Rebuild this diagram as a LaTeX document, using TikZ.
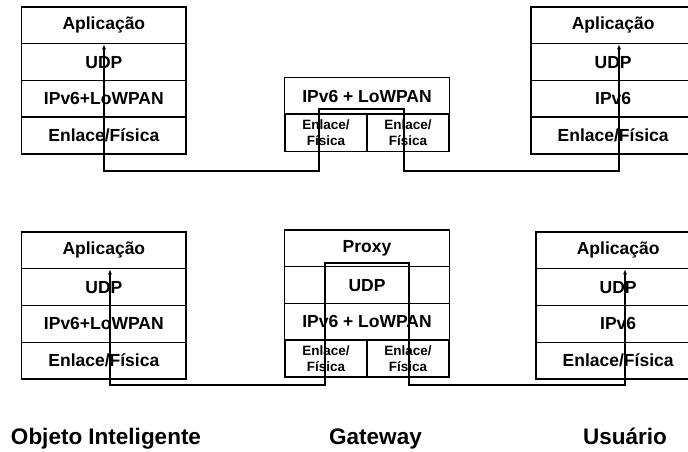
\documentclass[tikz,border=0pt]{standalone}
\usepackage{fontspec}
\setmainfont{Liberation Sans}
\usetikzlibrary{arrows.meta}
\begin{document}
\begin{tikzpicture}[x=1pt,y=-1pt,
  row/.style={draw=black,line width=1.1pt,minimum width=164.3pt,minimum height=36.75pt,inner sep=0pt,
    font=\fontsize{17.5}{21}\selectfont\bfseries},
  half/.style={draw=black,line width=1.1pt,minimum width=82.15pt,minimum height=36.75pt,inner sep=0pt,
    align=center,font=\fontsize{13.5}{15.5}\selectfont\bfseries},
  thick divider/.style={line width=2pt},
  link/.style={line width=1.1pt,{Latex[length=5pt,width=4pt]}-{Latex[length=5pt,width=4pt]}},
  caption/.style={font=\fontsize{22.5}{26}\selectfont\bfseries,anchor=base,inner sep=0pt}]
\clip (0,0) rectangle (688,451);
\useasboundingbox (0,0) rectangle (688,451);
% top-left stack
\node[row] (tlA) at (103.85,25.375) {Aplicação};
\node[row] (tlU) at (103.85,62.125) {UDP};
\node[row] (tlI) at (103.85,98.875) {IPv6+LoWPAN};
\node[row] (tlE) at (103.85,135.625) {Enlace/Física};
\draw[thick divider] (tlE.north west) -- (tlE.north east);
% top-right stack
\node[row] (trA) at (613.15,25.375) {Aplicação};
\node[row] (trU) at (613.15,62.125) {UDP};
\node[row] (trI) at (613.15,98.875) {IPv6};
\node[row] (trE) at (613.15,135.625) {Enlace/Física};
\draw[thick divider] (trE.north west) -- (trE.north east);
% top gateway
\node[row] (gtI) at (367,96) {IPv6 + LoWPAN};
\node[half] (gtL) at (326.075,132.75) {Enlace/\\Física};
\node[half] (gtR) at (407.925,132.75) {Enlace/\\Física};
\draw[thick divider] (gtL.north west) -- (gtR.north east);
% bottom-left stack
\node[row] (blA) at (103.85,250.375) {Aplicação};
\node[row] (blU) at (103.85,287.125) {UDP};
\node[row] (blI) at (103.85,323.875) {IPv6+LoWPAN};
\node[row] (blE) at (103.85,360.625) {Enlace/Física};
% bottom-right stack
\node[row] (brA) at (618.15,250.375) {Aplicação};
\node[row] (brU) at (618.15,287.125) {UDP};
\node[row] (brI) at (618.15,323.875) {IPv6};
\node[row] (brE) at (618.15,360.625) {Enlace/Física};
% bottom gateway
\node[row] (gbP) at (367,248.375) {Proxy};
\node[row] (gbU) at (367,285.125) {UDP};
\node[row] (gbI) at (367,321.875) {IPv6 + LoWPAN};
\node[half] (gbL) at (326.075,358.625) {Enlace/\\Física};
\node[half] (gbR) at (407.925,358.625) {Enlace/\\Física};
\draw[thick divider] (gbL.north west) -- (gbR.north east);
% connectors
\coordinate (t1) at (104,171);
\coordinate (t2) at (319,171);
\coordinate (t3) at (319,109);
\coordinate (t4) at (404,109);
\coordinate (t5) at (404,171);
\coordinate (t6) at (619,171);
\draw[link] (tlA.south -| t1) -- (t1) -- (t2) -- (t3) -- (t4) -- (t5) -- (t6) -- (trA.south -| t6);
\coordinate (b1) at (110,385);
\coordinate (b2) at (325,385);
\coordinate (b3) at (325,263);
\coordinate (b4) at (409,263);
\coordinate (b5) at (409,385);
\coordinate (b6) at (625,385);
\draw[link] (blA.south -| b1) -- (b1) -- (b2) -- (b3) -- (b4) -- (b5) -- (b6) -- (brA.south -| b6);
% captions
\node[caption] (c1) at (106,444) {Objeto Inteligente};
\node[caption] (c2) at (375.5,444) {Gateway};
\node[caption] (c3) at (625,444) {Usuário};
\end{tikzpicture}
\end{document}
